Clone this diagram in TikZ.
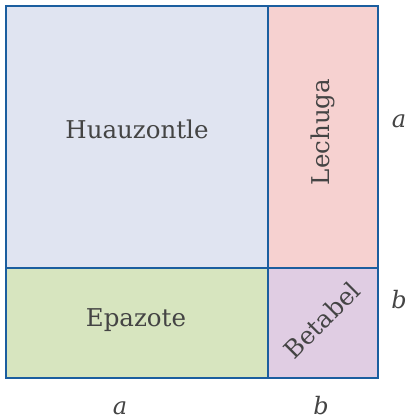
\documentclass[tikz,border=0pt]{standalone}
\usepackage{fontspec}
\setmainfont{DejaVu Serif}
\definecolor{borde}{HTML}{1B5E9F}
\definecolor{tinta}{HTML}{444444}
\definecolor{colhuau}{HTML}{E0E4F1}
\definecolor{collechuga}{HTML}{F6D1D0}
\definecolor{colepazote}{HTML}{D7E5BF}
\definecolor{colbetabel}{HTML}{E0CDE3}
\tikzset{
  planta/.style={text=tinta, font=\fontsize{24.5}{29}\selectfont, inner sep=0pt},
  lado/.style={text=tinta, font=\fontsize{24}{29}\selectfont\itshape, inner sep=0pt, anchor=base},
  linea/.style={draw=borde, line width=2.8pt}
}
\begin{document}
\begin{tikzpicture}[x=1pt,y=-1pt]
			\useasboundingbox (0,0) rectangle (407,419);
			
			%%%%% PARCELAS %%%%%
			\fill[colhuau] (6,6) rectangle (268,268);
			\fill[collechuga] (268,6) rectangle (378,268);
			\fill[colepazote] (6,268) rectangle (268,378);
			\fill[colbetabel] (268,268) rectangle (378,378);
			
			\draw[linea] (6,6) rectangle (378,378);
			\draw[linea] (268,6) -- (268,378);
			\draw[linea] (6,268) -- (378,268);
			
			%%%%% NOMBRES %%%%%
			\node[planta, anchor=base] (huauzontle) at (137,139) {Huauzontle};
			\node[planta, anchor=base, rotate=90] (lechuga) at (329,132) {Lechuga};
			\node[planta, anchor=base] (epazote) at (136,326) {Epazote};
			\node[planta, rotate=45] (betabel) at (322,320) {Betabel};
			
			%%%%% LADOS %%%%%
			\node[lado] (ladoA) at (399,128) {a};
			\node[lado] (ladoB) at (399,308) {b};
			\node[lado] (baseA) at (120,414) {a};
			\node[lado] (baseB) at (321,414) {b};
\end{tikzpicture}
\end{document}
